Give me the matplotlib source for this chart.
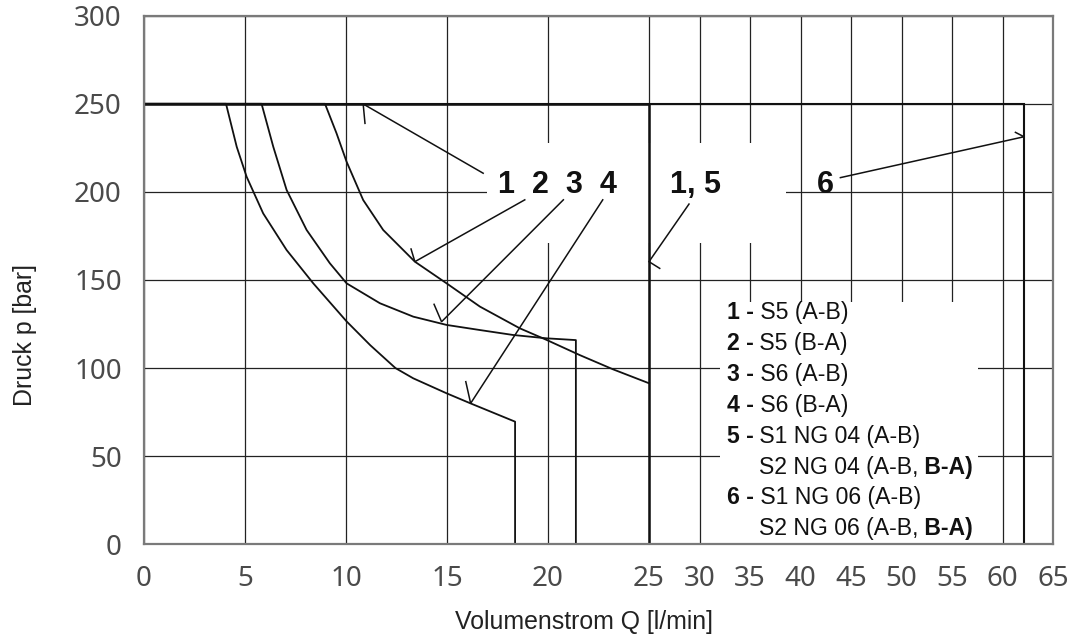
import numpy as np
import matplotlib
matplotlib.use("Agg")
import matplotlib.pyplot as plt
from matplotlib.patches import Rectangle

# ---------------- data ----------------
q_ticks = [0, 5, 10, 15, 20, 25, 30, 35, 40, 45, 50, 55, 60, 65]
p_ticks = [0, 50, 100, 150, 200, 250, 300]

# curve 1 / 5 (S5 A-B ; S1/S2 NG 04)
c15_q = [0, 25, 25]
c15_p = [250, 250, 0]
# curve 6 (NG 06)
c6_q = [0, 62.1, 62.1]
c6_p = [250, 250, 0]
# curve 2 (S5 B-A) - outer curve
c2_q = [0, 8.96, 9.53, 10.03, 10.85, 11.84, 13.41, 14.98, 16.63, 18.60, 19.93, 21.57, 23.22, 25.0]
c2_p = [250, 250, 233.3, 217.1, 195.4, 178.4, 160.4, 148.1, 134.9, 122.6, 116.0, 107.4, 99.3, 91.4]
# curve 3 (S6 A-B) - middle curve
c3_q = [0, 5.82, 6.40, 7.06, 8.05, 9.20, 10.03, 11.68, 13.33, 14.98, 16.63, 18.27, 19.93, 21.38, 21.38]
c3_p = [250, 250, 225.6, 201.1, 178.4, 159.5, 148.1, 136.8, 129.2, 124.5, 121.6, 118.8, 116.9, 115.9, 0]
# curve 4 (S6 B-A) - lower curve
c4_q = [0, 4.06, 4.59, 5.08, 5.90, 7.06, 8.38, 10.03, 11.2, 12.45, 13.33, 14.98, 16.16, 18.37, 18.37]
c4_p = [250, 250, 225.6, 208.6, 187.8, 167.0, 148.1, 126.5, 113.0, 100.0, 94.2, 85.7, 80.0, 69.6, 0]

# callout labels
callout_texts = ["1  2  3  4", "1, 5", "6"]
callout_q = [17.52, 27.05, 41.6]
callout_p = [199.6, 199.6, 199.6]

# callout arrows: tail -> tip, with a single barb at the tip
arrow_tail_q = [16.79, 18.85, 20.76, 22.71, 28.96, 43.95]
arrow_tail_p = [210.6, 195.5, 195.5, 195.5, 193.1, 208.1]
arrow_tip_q = [10.85, 13.41, 14.73, 16.17, 25.0, 62.13]
arrow_tip_p = [249.9, 160.4, 126.3, 80.0, 160.4, 231.3]
arrow_barb_q = [10.94, 13.22, 14.36, 15.93, 26.06, 61.28]
arrow_barb_p = [238.9, 167.6, 136.2, 92.3, 156.6, 233.8]

# white masks behind texts (q0, p0, q1, p1)
mask_boxes = [(17.0, 171.1, 38.53, 227.8), (32.0, 0.0, 57.54, 137.6)]

# legend rows: list of (text, bold?)
legend_rows = [
    [("1 -", True), (" S5 (A-B)", False)],
    [("2 -", True), (" S5 (B-A)", False)],
    [("3 -", True), (" S6 (A-B)", False)],
    [("4 -", True), (" S6 (B-A)", False)],
    [("5 -", True), (" S1 NG 04 (A-B)", False)],
    [("S2 NG 04 (A-B,", False), (" B-A)", True)],
    [("6 -", True), (" S1 NG 06 (A-B)", False)],
    [("S2 NG 06 (A-B,", False), (" B-A)", True)],
]
legend_q = [32.69, 32.69, 32.69, 32.69, 32.69, 35.86, 32.69, 35.86]
legend_p = [131.3, 113.7, 96.6, 79.0, 61.4, 43.8, 26.7, 9.1]

# ---------------- figure ----------------
W, H = 1076, 640
fig = plt.figure(figsize=(W / 100, H / 100), dpi=100)
ax = fig.add_axes([144 / W, (H - 544.3) / H, (1053 - 144) / W, (544.3 - 15.7) / H])


def fwd(x):
    x = np.asarray(x, dtype=float)
    return np.where(x <= 25, x, 25 + (x - 25) / 2.0)


def inv(y):
    y = np.asarray(y, dtype=float)
    return np.where(y <= 25, y, 25 + (y - 25) * 2.0)


ax.set_xscale("function", functions=(fwd, inv))
ax.set_xlim(0, 65)
ax.set_ylim(0, 300)

tick_font = dict(family=["Noto Sans", "DejaVu Sans"], fontstretch="condensed",
                 fontweight="light", size=20, color="#4a4a4a")
ax.set_xticks(q_ticks)
ax.set_xticklabels([str(v) for v in q_ticks], **tick_font)
ax.set_yticks(p_ticks)
ax.set_yticklabels([str(v) for v in p_ticks], **tick_font)
ax.minorticks_off()
ax.tick_params(axis="both", length=0)
ax.tick_params(axis="x", pad=15)
ax.tick_params(axis="y", pad=16)

ax.set_axisbelow(True)
ax.grid(True, color="#222222", linewidth=0.9)
for s in ax.spines.values():
    s.set_color("#7a7a7a")
    s.set_linewidth(1.6)
    s.set_zorder(5)

# white masks
for q0, p0, q1, p1 in mask_boxes:
    ax.add_patch(Rectangle((q0, p0), q1 - q0, p1 - p0, facecolor="white",
                           edgecolor="none", zorder=1))

# curves
lc = "#111111"
ax.plot(c15_q, c15_p, color=lc, lw=1.8, zorder=3, solid_joinstyle="miter")
ax.plot(c6_q, c6_p, color=lc, lw=1.5, zorder=3, solid_joinstyle="miter")
for q, p in [(c2_q, c2_p), (c3_q, c3_p), (c4_q, c4_p)]:
    ax.plot(q, p, color=lc, lw=1.3, zorder=3, solid_joinstyle="round")

# arrows
for i in range(len(arrow_tail_q)):
    ax.plot([arrow_tail_q[i], arrow_tip_q[i], arrow_barb_q[i]],
            [arrow_tail_p[i], arrow_tip_p[i], arrow_barb_p[i]],
            color=lc, lw=1.1, zorder=4, solid_joinstyle="miter")

# callout labels
for t, q, p in zip(callout_texts, callout_q, callout_p):
    ax.text(q, p, t, fontsize=22, fontweight="bold", family="Liberation Sans",
            ha="left", va="baseline", color="#111111", zorder=4)

# legend text
lfont = dict(family="Liberation Sans", fontsize=16.6, color="#111111", zorder=4)
for row, q, p in zip(legend_rows, legend_q, legend_p):
    prev = None
    for txt, bold in row:
        w = "bold" if bold else "normal"
        if prev is None:
            prev = ax.text(q, p, txt, fontweight=w, ha="left", va="center", **lfont)
        else:
            prev = ax.annotate(txt, xy=(1, 0), xycoords=prev, ha="left", va="bottom",
                               fontweight=w, **lfont)

# axis labels
fig.text(25 / W, 1 - 335 / H, "Druck p [bar]", rotation=90, ha="center", va="center",
         family="Liberation Sans", fontsize=17.9, color="#222222")
fig.text(584 / W, 1 - 622 / H, "Volumenstrom Q [l/min]", ha="center", va="center",
         family="Liberation Sans", fontsize=17.9, color="#222222")

fig.savefig("out.png", dpi=100)
